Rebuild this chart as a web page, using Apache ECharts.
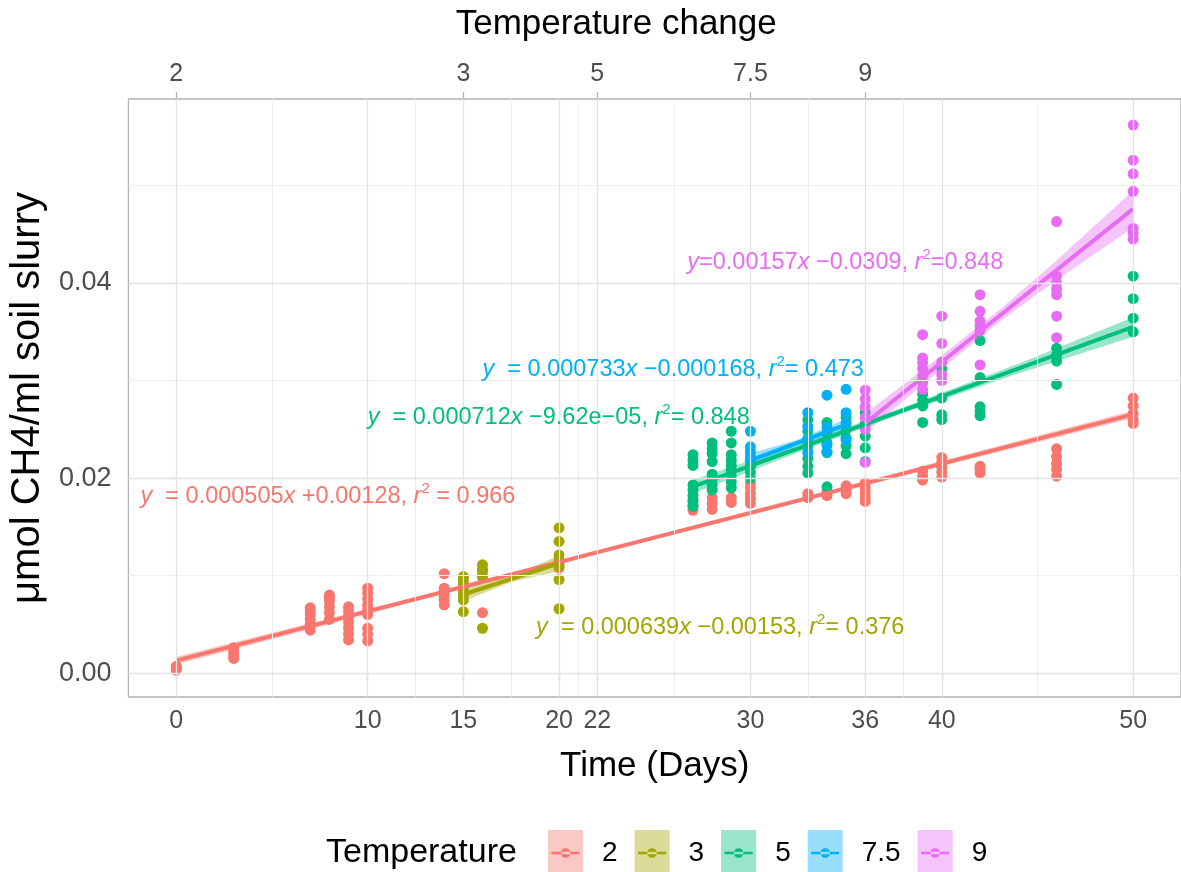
<!DOCTYPE html>
<html><head><meta charset="utf-8">
<script src="https://cdn.jsdelivr.net/npm/echarts@6/dist/echarts.min.js"></script>
<style>html,body{margin:0;padding:0;background:#fff}#c{width:1181px;height:872px}</style>
</head><body><div id="c"></div>
<script>
// ---------- data ----------
const groups = ['2', '3', '5', '7.5', '9'];
const colors = ['#F8766D', '#A3A500', '#00BF7D', '#00B0F6', '#E76BF3'];
const bandFills = ['rgba(248,118,109,0.4)', 'rgba(163,165,0,0.4)', 'rgba(0,191,125,0.4)', 'rgba(0,176,246,0.4)', 'rgba(231,107,243,0.4)'];

const xTicks = [0, 10, 15, 20, 22, 30, 36, 40, 50];
const xMinorGrid = [5, 12.5, 17.5, 21, 26, 33, 38, 45];
const topTickDays = [0, 15, 22, 30, 36];
const topTickLabels = ['2', '3', '5', '7.5', '9'];
const yTicks = [0, 0.02, 0.04];
const yMinorGrid = [0.01, 0.03, 0.05];

// points: [day, [values...]]
const temp2Points = [
  [0, [0.0003, 0.0005, 0.0007]],
  [3, [0.0015, 0.0018, 0.0022, 0.0026]],
  [7, [0.0044, 0.0050, 0.0055, 0.0060, 0.0064, 0.0067]],
  [8, [0.0055, 0.0062, 0.0068, 0.0074, 0.0077, 0.0080]],
  [9, [0.0034, 0.0040, 0.0046, 0.0052, 0.0058, 0.0063, 0.0068]],
  [10, [0.0033, 0.0040, 0.0046, 0.0060, 0.0065, 0.0070, 0.0076, 0.0082, 0.0087]],
  [14, [0.0070, 0.0075, 0.0079, 0.0083, 0.0087, 0.0102]],
  [16, [0.0062, 0.0098, 0.0105]],
  [20, [0.0108, 0.0113]],
  [27, [0.0167, 0.0172, 0.0178]],
  [28, [0.0168, 0.0174, 0.0180, 0.0188]],
  [29, [0.0175, 0.0180]],
  [30, [0.0174, 0.0179, 0.0184, 0.0190, 0.0195]],
  [33, [0.0180, 0.0184]],
  [34, [0.0182, 0.0186]],
  [35, [0.0184, 0.0188, 0.0192]],
  [36, [0.0176, 0.0180, 0.0185, 0.0190, 0.0195]],
  [39, [0.0198, 0.0202, 0.0207]],
  [40, [0.0201, 0.0206, 0.0211, 0.0216, 0.0221]],
  [42, [0.0205, 0.0209, 0.0212]],
  [46, [0.0202, 0.0209, 0.0215, 0.0222, 0.0230]],
  [50, [0.0256, 0.0260, 0.0266, 0.0274, 0.0282]]
];
const temp3Points = [
  [15, [0.0063, 0.0075, 0.0080, 0.0084, 0.0088, 0.0092, 0.0096, 0.0099]],
  [16, [0.0046, 0.0100, 0.0106, 0.0111]],
  [20, [0.0066, 0.0096, 0.0110, 0.0115, 0.0121, 0.0135, 0.0149]]
];
const temp5Points = [
  [27, [0.0171, 0.0176, 0.0182, 0.0188, 0.0193, 0.0213, 0.0218, 0.0224]],
  [28, [0.0188, 0.0193, 0.0199, 0.0204, 0.0217, 0.0225, 0.0230, 0.0236]],
  [29, [0.0190, 0.0196, 0.0202, 0.0208, 0.0213, 0.0218, 0.0224, 0.0236, 0.0248]],
  [30, [0.0200, 0.0206, 0.0212, 0.0218]],
  [33, [0.0205, 0.0212, 0.0220, 0.0232, 0.0240, 0.0248, 0.0260]],
  [34, [0.0191, 0.0226, 0.0236, 0.0246, 0.0257]],
  [35, [0.0225, 0.0233, 0.0241, 0.0250, 0.0262]],
  [36, [0.0217, 0.0231, 0.0243, 0.0256, 0.0267]],
  [39, [0.0257, 0.0274, 0.0280, 0.0286]],
  [40, [0.0260, 0.0265, 0.0282, 0.0312]],
  [42, [0.0264, 0.0268, 0.0273, 0.0303, 0.0341]],
  [46, [0.0296, 0.0320, 0.0326, 0.0333]],
  [50, [0.0350, 0.0364, 0.0384, 0.0407]]
];
const temp75Points = [
  [30, [0.0218, 0.0222, 0.0227, 0.0232, 0.0248]],
  [33, [0.0226, 0.0240, 0.0253, 0.0267]],
  [34, [0.0227, 0.0234, 0.0252, 0.0285]],
  [35, [0.0239, 0.0256, 0.0267, 0.0291]]
];
const temp9Points = [
  [36, [0.0216, 0.0250, 0.0262, 0.0273, 0.0281, 0.0290]],
  [39, [0.0291, 0.0298, 0.0305, 0.0312, 0.0318, 0.0323, 0.0347]],
  [40, [0.0300, 0.0306, 0.0319, 0.0338, 0.0366]],
  [42, [0.0316, 0.0351, 0.0356, 0.0361, 0.0371, 0.0388]],
  [46, [0.0344, 0.0366, 0.0388, 0.0394, 0.0400, 0.0407, 0.0463]],
  [50, [0.0445, 0.0451, 0.0456, 0.0494, 0.0512, 0.0526, 0.0562]]
];
const allPoints = [temp2Points, temp3Points, temp5Points, temp75Points, temp9Points];

// fitted lines (start / end)
const fitX = [[0, 50], [15, 20], [27, 50], [30, 35], [36, 50]];
const fitY = [[0.00128, 0.02653], [0.00806, 0.01125], [0.01913, 0.03550], [0.02182, 0.02549], [0.02562, 0.04760]];

// confidence bands
const bandX = [[0, 12.5, 25, 37.5, 50], [15, 17.5, 20], [27, 33, 38, 44, 50], [30, 32.5, 35], [36, 40, 43, 46, 50]];
const bandLo = [[0.00088, 0.00734, 0.01371, 0.01997, 0.02613], [0.00736, 0.00935, 0.01045], [0.01843, 0.02300, 0.02666, 0.03073, 0.03450], [0.02112, 0.02335, 0.02489], [0.02462, 0.03120, 0.03601, 0.04030, 0.04570]];
const bandHi = [[0.00168, 0.00784, 0.01411, 0.02047, 0.02693], [0.00876, 0.00995, 0.01205], [0.01983, 0.02380, 0.02726, 0.03173, 0.03650], [0.02252, 0.02395, 0.02609], [0.02662, 0.03260, 0.03721, 0.04230, 0.04950]];

// equation texts
const eqTexts = [
  'y  = 0.000505x +0.00128, r2 = 0.966',
  'y  = 0.000639x \u22120.00153, r2= 0.376',
  'y  = 0.000712x \u22129.62e\u221205, r2= 0.848',
  'y  = 0.000733x \u22120.000168, r2= 0.473',
  'y=0.00157x \u22120.0309, r2=0.848'
];
const eqAnchorX = [-1.87, 18.8, 10.0, 16.0, 26.7];
const eqAnchorY = [0.0181, 0.00465, 0.0262, 0.0311, 0.0421];

// ---------- chart ----------
const FONT = 'Liberation Sans, Arial, sans-serif';
const chart = echarts.init(document.getElementById('c'), null, {renderer: 'canvas'});

function richEq(s) {
  return s.replace(/^y/, '{i|y}').replace(/(\d)x /, '$1{i|x} ').replace(/r2/, '{i|r}{s|2}');
}

const series = [];
// grid lines
series.push({
  type: 'line', name: '_grid', data: [], silent: true, z: 0,
  markLine: {
    silent: true, symbol: ['none', 'none'], label: {show: false}, animation: false,
    data: [
      ...xMinorGrid.map(v => ({xAxis: v, lineStyle: {color: '#eeeeee', width: 1, type: 'solid'}})),
      ...yMinorGrid.map(v => ({yAxis: v, lineStyle: {color: '#eeeeee', width: 1, type: 'solid'}})),
      ...xTicks.map(v => ({xAxis: v, lineStyle: {color: '#e3e3e3', width: 1.3, type: 'solid'}})),
      ...yTicks.map(v => ({yAxis: v, lineStyle: {color: '#e3e3e3', width: 1.3, type: 'solid'}}))
    ]
  }
});

groups.forEach((g, i) => {
  const pts = [];
  allPoints[i].forEach(([d, vals]) => vals.forEach(v => pts.push([d, v])));
  series.push({
    type: 'scatter', name: g, data: pts, symbolSize: 11, z: 2,
    itemStyle: {color: colors[i], opacity: 1}
  });
});
groups.forEach((g, i) => {
  series.push({
    type: 'custom', name: g, silent: true, z: 3,
    data: bandX[i].map((x, j) => [x, bandLo[i][j], bandHi[i][j]]),
    encode: {x: 0, y: [1, 2]},
    renderItem: (params, api) => {
      if (params.dataIndex !== 0) return null;
      const upper = bandX[i].map((x, j) => api.coord([x, bandHi[i][j]]));
      const lower = bandX[i].map((x, j) => api.coord([x, bandLo[i][j]])).reverse();
      return {type: 'polygon', shape: {points: upper.concat(lower)}, style: {fill: bandFills[i]}};
    }
  });
});
groups.forEach((g, i) => {
  series.push({
    type: 'line', name: g, symbol: 'none', z: 4,
    data: fitX[i].map((x, j) => [x, fitY[i][j]]),
    lineStyle: {color: colors[i], width: 4}, itemStyle: {color: colors[i]},
    markPoint: {
      symbol: 'circle', symbolSize: 0, silent: true, animation: false,
      data: [{coord: [eqAnchorX[i], eqAnchorY[i]]}],
      label: {
        show: true, position: 'right', distance: 0,
        formatter: () => richEq(eqTexts[i]),
        color: colors[i], fontSize: 23.5, fontFamily: FONT, lineHeight: 30,
        rich: {
          i: {fontStyle: 'italic', color: colors[i], fontSize: 23.5, fontFamily: FONT, lineHeight: 30},
          s: {color: colors[i], fontSize: 15, fontFamily: FONT, lineHeight: 15, verticalAlign: 'top'}
        }
      }
    }
  });
});

// legend icon: line + point, with invisible corner specks so the box is 35x46
const legendIconLine = 'path://M0,0 L0.01,0 L0.01,0.01 Z M34.99,45.99 L35,45.99 L35,46 Z ' +
  'M3.5,21.8 L31.5,21.8 L31.5,24.2 L3.5,24.2 Z M12.7,23 A4.8,4.8 0 1,0 22.3,23 A4.8,4.8 0 1,0 12.7,23 Z';

chart.setOption({
  animation: false,
  backgroundColor: '#ffffff',
  title: {
    text: 'Temperature', left: 326, top: 836, padding: 0,
    textStyle: {fontSize: 34, fontWeight: 'normal', color: '#000', fontFamily: FONT}
  },
  grid: {left: 128, top: 99, right: -6, bottom: 175, show: true, borderColor: '#b3b3b3', borderWidth: 1.3, containLabel: false},
  legend: [
    {
      data: groups, left: 548, top: 830, orient: 'horizontal', padding: 0,
      icon: 'rect', itemWidth: 35, itemHeight: 46, itemGap: 17,
      itemStyle: {opacity: 0.4},
      textStyle: {fontSize: 28, color: '#000', fontFamily: FONT, padding: [0, 0, 0, 14]}
    },
    {
      data: groups, left: 548, top: 830, orient: 'horizontal', padding: 0,
      icon: legendIconLine, itemWidth: 35, itemHeight: 46, itemGap: 17,
      itemStyle: {opacity: 1},
      textStyle: {fontSize: 28, color: 'rgba(0,0,0,0)', fontFamily: FONT, padding: [0, 0, 0, 14]}
    }
  ],
  xAxis: [
    {
      type: 'value', position: 'bottom', min: -2.5, max: 52.5,
      axisLine: {show: false},
      axisTick: {show: true, customValues: xTicks, length: 7, lineStyle: {color: '#b3b3b3', width: 1.3}},
      axisLabel: {customValues: xTicks, fontSize: 25, color: '#4d4d4d', margin: 12, fontFamily: FONT},
      splitLine: {show: false},
      name: 'Time (Days)', nameLocation: 'middle', nameGap: 52,
      nameTextStyle: {fontSize: 35, color: '#000', fontFamily: FONT}
    },
    {
      type: 'value', position: 'top', min: -2.5, max: 52.5,
      axisLine: {show: false},
      axisTick: {show: true, customValues: topTickDays, length: 7, lineStyle: {color: '#b3b3b3', width: 1.3}},
      axisLabel: {
        customValues: topTickDays, fontSize: 25, color: '#4d4d4d', margin: 12, fontFamily: FONT,
        formatter: v => topTickLabels[topTickDays.indexOf(v)]
      },
      splitLine: {show: false},
      name: 'Temperature change', nameLocation: 'middle', nameGap: 57,
      nameTextStyle: {fontSize: 35, color: '#000', fontFamily: FONT, padding: [0, 77, 0, 0]}
    }
  ],
  yAxis: {
    type: 'value', min: -0.00245, max: 0.05887,
    axisLine: {show: false},
    axisTick: {show: true, customValues: yTicks, length: 7, lineStyle: {color: '#b3b3b3', width: 1.3}},
    axisLabel: {customValues: yTicks, fontSize: 27, color: '#4d4d4d', margin: 17, fontFamily: FONT,
      formatter: v => v.toFixed(2)},
    splitLine: {show: false},
    name: '\u03bcmol CH4/ml soil slurry', nameLocation: 'middle', nameGap: 72, nameRotate: 90,
    nameTextStyle: {fontSize: 40, color: '#000', fontFamily: FONT}
  },
  series: series
});
</script>
</body></html>
